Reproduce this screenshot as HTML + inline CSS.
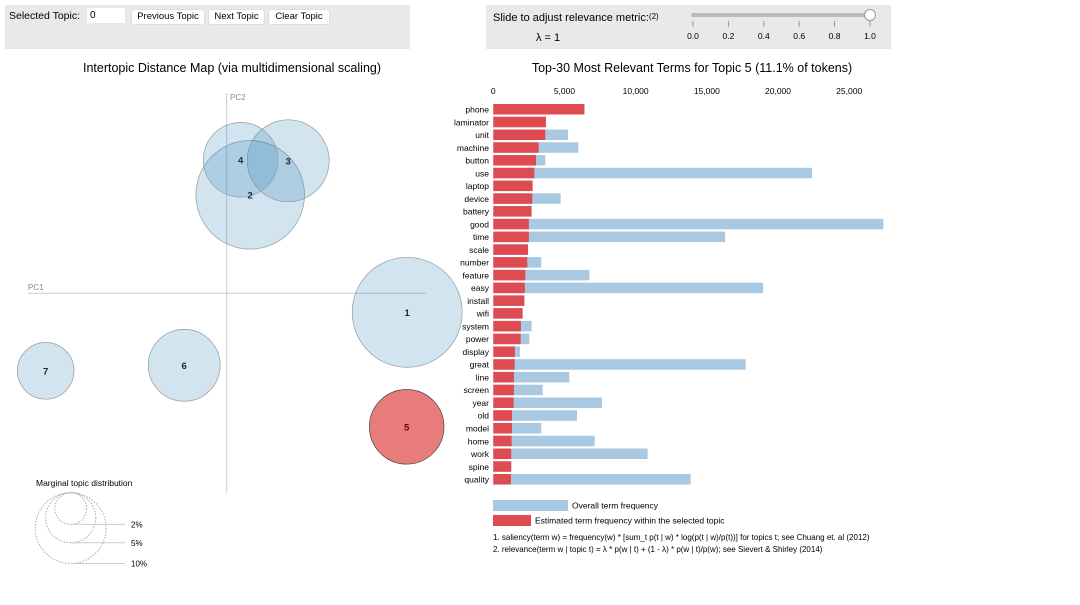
<!DOCTYPE html>
<html><head><meta charset="utf-8"><style>
body{margin:0;width:1080px;height:605px;background:#fff;font-family:"Liberation Sans",sans-serif;overflow:hidden;position:relative}
.panel{position:absolute;background:#e9e9e9}
.btn{position:absolute;top:9px;height:14px;background:#fff;border:1px solid #ddd;border-radius:3px;font-size:9.5px;line-height:14px;text-align:center}
</style></head><body>
<div class="panel" style="left:5px;top:5px;width:405px;height:44px"></div>
<div style="position:absolute;left:9px;top:10px;font-size:10.5px">Selected Topic:</div>
<div style="position:absolute;left:87px;top:8px;width:38px;height:15px;background:#fff;font-size:10px;line-height:15px;padding-left:3px;box-sizing:border-box">0</div>
<div class="btn" style="left:131px;width:72px">Previous Topic</div>
<div class="btn" style="left:208px;width:55px">Next Topic</div>
<div class="btn" style="left:268px;width:60px">Clear Topic</div>
<div class="panel" style="left:486px;top:5px;width:405px;height:44px"></div>
<div style="position:absolute;left:493px;top:12px;font-size:11px">Slide to adjust relevance metric:<span style="font-size:8px;vertical-align:top">(2)</span></div>
<div style="position:absolute;left:536px;top:32px;font-size:11px">λ = 1</div>
<svg width="1080" height="605" style="position:absolute;left:0;top:0" id="svg">
<g>
<line x1="693" y1="15" x2="870" y2="15" stroke="#bbb" stroke-width="4" stroke-linecap="round"/>
<circle cx="870" cy="15" r="5.5" fill="#fff" stroke="#999"/>
</g>
<g id="sliderTicks"></g>
<text x="232" y="72" font-size="12.5" text-anchor="middle">Intertopic Distance Map (via multidimensional scaling)</text>
<text x="692" y="72" font-size="12.5" text-anchor="middle">Top-30 Most Relevant Terms for Topic 5 (11.1% of tokens)</text>
<g id="map"></g><g id="bars"></g>
<g>
<text x="36" y="486" font-size="8.5">Marginal topic distribution</text>
<g id="marg"></g>
</g>
<g>
<rect x="493" y="500" width="75" height="11" fill="#a9c8e1"/>
<text x="572" y="508.5" font-size="8.5">Overall term frequency</text>
<rect x="493" y="515" width="38" height="11" fill="#de4c52"/>
<text x="535" y="523.5" font-size="8.5">Estimated term frequency within the selected topic</text>
<text x="493" y="540" font-size="8">1. saliency(term w) = frequency(w) * [sum_t p(t | w) * log(p(t | w)/p(t))] for topics t; see Chuang et. al (2012)</text>
<text x="493" y="552" font-size="8">2. relevance(term w | topic t) = λ * p(w | t) + (1 - λ) * p(w | t)/p(w); see Sievert &amp; Shirley (2014)</text>
</g>
</svg>
<script>
const topicIds=[1,2,3,4,5,6,7];
const topicPC1=[0.361,0.047,0.123,0.028,0.360,-0.085,-0.362];
const topicPC2=[-0.038,0.197,0.265,0.267,-0.267,-0.144,-0.155];
const topicPct=[24.1,23.5,13.4,11.1,11.1,10.3,6.4];
const selectedTopic=5;
const terms=["phone","laminator","unit","machine","button","use","laptop","device","battery","good","time","scale","number","feature","easy","install","wifi","system","power","display","great","line","screen","year","old","model","home","work","spine","quality"];
const topicFreq=[6400,3700,3650,3185,3000,2880,2760,2740,2690,2500,2500,2440,2390,2250,2220,2180,2060,1940,1920,1520,1500,1450,1450,1430,1310,1310,1290,1260,1260,1240];
const overallFreq=[6400,3700,5250,5970,3650,22390,2760,4730,2690,27400,16280,2440,3370,6750,18950,2180,2060,2690,2530,1870,17730,5340,3470,7630,5880,3370,7120,10840,1260,13860];
const xTicks=[0,5000,10000,15000,20000,25000];
const sliderTicks=[0.0,0.2,0.4,0.6,0.8,1.0];
const margPct=[2,5,10];
const NS="http://www.w3.org/2000/svg";
function mk(p,t,a){const e=document.createElementNS(NS,t);for(const k in a)e.setAttribute(k,a[k]);p.appendChild(e);return e;}
const mx=v=>226.7+v*500, my=v=>293.3-v*500, rr=p=>Math.sqrt(p)*11.2;
const bx=v=>493.3+v*0.014235, by=i=>104+i*12.76;
const st=document.getElementById('sliderTicks');
sliderTicks.forEach(v=>{const x=693+v*177;
const l=mk(st,'line',{x1:x,y1:21,x2:x,y2:27,stroke:'#999'});


const t=mk(st,'text',{x:x,y:39,'font-size':8.5,'text-anchor':'middle'});t.textContent=v.toFixed(1);

});
const map=document.getElementById('map');
const ax1=mk(map,'line',{x1:226.7,y1:93,x2:226.7,y2:493,stroke:'#ccc'});


const ax2=mk(map,'line',{x1:28,y1:293.3,x2:426,y2:293.3,stroke:'#ccc'});


let t=mk(map,'text',{x:230,y:100,'font-size':8,fill:'#888'});t.textContent='PC2';


t=mk(map,'text',{x:28,y:290,'font-size':8,fill:'#888'});t.textContent='PC1';


topicIds.forEach((id,i)=>{const sel=id===selectedTopic;
const c=mk(map,'circle',{cx:mx(topicPC1[i]),cy:my(topicPC2[i]),r:rr(topicPct[i]),fill:sel?'#e0504e':'#1f77b4','fill-opacity':sel?0.75:0.2,stroke:sel?'#444':'#999','stroke-width':0.7});

});
topicIds.forEach((id,i)=>{const l=mk(map,'text',{x:mx(topicPC1[i]),y:my(topicPC2[i])+3.5,'font-size':9.5,'font-weight':'bold','text-anchor':'middle',fill:id===selectedTopic?'#6a0000':'#1a2a3a'});l.textContent=id;

});
const marg=document.getElementById('marg');
margPct.forEach(p=>{const r=rr(p);const bottom=492.7+2*r;
const c=mk(marg,'circle',{cx:70.7,cy:492.7+r,r:r,fill:'none',stroke:'#aaa','stroke-dasharray':'1.5,1.5'});


mk(marg,'line',{x1:70.7,y1:bottom,x2:125,y2:bottom,stroke:'#ccc'});
const tx=mk(marg,'text',{x:131,y:bottom+3,'font-size':8});tx.textContent=p+'%';

});
const bars=document.getElementById('bars');
xTicks.forEach(v=>{const tk=mk(bars,'text',{x:bx(v),y:94,'font-size':8.5,'text-anchor':'middle'});tk.textContent=v.toLocaleString('en-US');

});
terms.forEach((w,i)=>{const y=by(i);
const b=mk(bars,'rect',{x:bx(0),y:y,width:bx(overallFreq[i])-bx(0),height:10.5,fill:'#a9c8e1'});


const r=mk(bars,'rect',{x:bx(0),y:y,width:bx(topicFreq[i])-bx(0),height:10.5,fill:'#de4c52'});


const l=mk(bars,'text',{x:489,y:y+8.5,'font-size':8.5,'text-anchor':'end'});l.textContent=w;

});
</script>
</body></html>
